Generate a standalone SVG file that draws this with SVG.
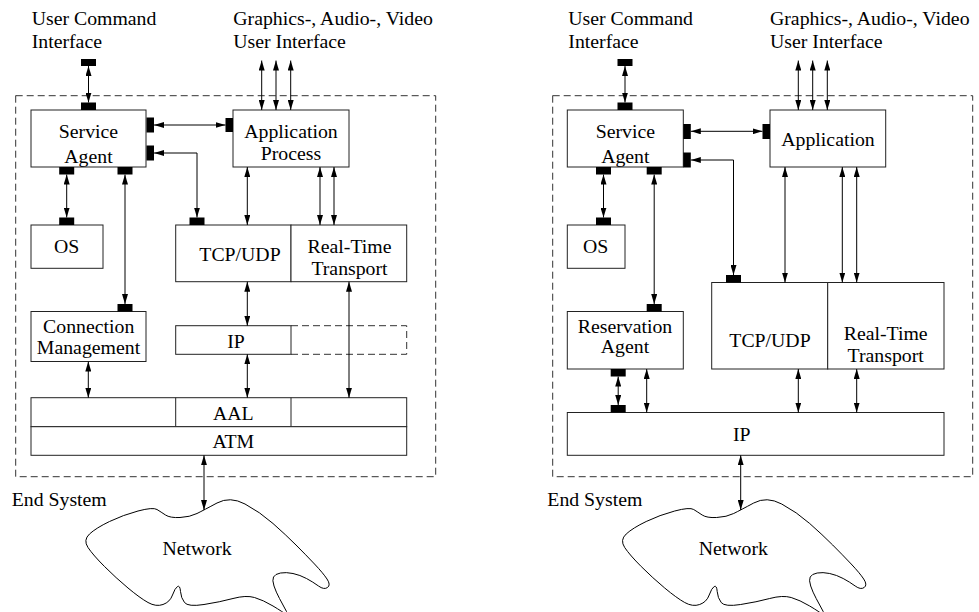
<svg xmlns="http://www.w3.org/2000/svg" width="979" height="612" viewBox="0 0 979 612">
<style>
text{font-family:"Liberation Serif","Times New Roman",serif;font-size:19.8px;fill:#000}
.c{text-anchor:middle}
.box{fill:#fff;stroke:#222;stroke-width:1}
.dash{fill:none;stroke:#333;stroke-width:1;stroke-dasharray:7,4}
.ln{fill:none;stroke:#000;stroke-width:1;marker-start:url(#ah);marker-end:url(#ah)}
.port{fill:#000}
.cloud{fill:#fff;stroke:#000;stroke-width:1}
</style>
<defs>
<marker id="ah" markerUnits="userSpaceOnUse" markerWidth="10" markerHeight="6" viewBox="0 0 10 6" refX="10" refY="3" orient="auto-start-reverse"><path d="M0,0 L10,3 L0,6 Z" fill="#000"/></marker>
<path id="cloudshape" d="M -7,513.5 Q 0,510 13,503 Q 26,496 41,504 Q 56,512 69,523.5 Q 82,535 92,545 Q 102,555 110.5,564 Q 119,573 123,579 Q 127,585 123.5,587.5 Q 120,590 114.5,586 Q 109,582 102.5,578.5 Q 96,575 89,573.5 Q 82,572 76.5,573 Q 71,574 69.5,577 Q 68,580 70,586 Q 72,592 75.5,598.5 Q 79,605 82.5,611.5 Q 86,618 82.5,615 Q 79,612 69,606 Q 59,600 50.5,597.5 Q 42,595 29,598.5 Q 16,602 0,604.5 Q -16,607 -19.5,602.5 Q -23,598 -23.5,591.5 Q -24,585 -26.5,586.5 Q -29,588 -31.5,595 Q -34,602 -41,604.5 Q -48,607 -56,602.5 Q -64,598 -76,588 Q -88,578 -99.5,566.5 Q -111,555 -116,547.5 Q -121,540 -114.5,534 Q -108,528 -94.5,521.5 Q -81,515 -66,511 Q -51,507 -47,509.5 Q -43,512 -38.5,515 Q -34,518 -24,517.5 Q -14,517 -7,513.5 Z"/>
</defs>
<rect width="979" height="612" fill="#fff"/>

<!-- LEFT DIAGRAM -->
<g id="left-end-system">
<rect class="dash" x="15.7" y="95.7" width="420" height="381"/>
<text x="11.7" y="505.7">End System</text>
</g>
<g id="left-uci"><text x="31.7" y="25">User Command</text><text x="31.7" y="48">Interface</text></g>
<g id="left-gui"><text x="233.3" y="25">Graphics-, Audio-, Video</text><text x="233.3" y="48">User Interface</text></g>
<g id="left-service-agent"><rect class="box" x="31" y="110" width="115" height="57"/><text class="c" x="88.5" y="138">Service</text><text class="c" x="88.5" y="163">Agent</text></g>
<g id="left-application"><rect class="box" x="233" y="110" width="116" height="57"/><text class="c" x="291" y="138">Application</text><text class="c" x="291" y="159.5">Process</text></g>
<g id="left-os"><rect class="box" x="31" y="225" width="72" height="43.3"/><text class="c" x="66.7" y="253.3">OS</text></g>
<g id="left-tcpudp"><rect class="box" x="175.7" y="225" width="115.3" height="56.7"/><text class="c" x="240" y="261">TCP/UDP</text></g>
<g id="left-rtt"><rect class="box" x="291" y="225" width="115.7" height="56.7"/><text class="c" x="349.5" y="253.3">Real-Time</text><text class="c" x="349.5" y="275">Transport</text></g>
<g id="left-conn-mgmt"><rect class="box" x="31" y="311.5" width="115" height="50"/><text class="c" x="88.7" y="332.7">Connection</text><text class="c" x="88.5" y="353.5">Management</text></g>
<g id="left-ip"><path class="dash" d="M291,325.7 H406.7 V354.3 H291"/><rect class="box" x="175.7" y="325.7" width="115.3" height="28.6"/><text class="c" x="236" y="348">IP</text></g>
<g id="left-aal"><rect class="box" x="31" y="397.7" width="375.7" height="29"/><line x1="175.7" y1="397.7" x2="175.7" y2="426.7" stroke="#222"/><line x1="291" y1="397.7" x2="291" y2="426.7" stroke="#222"/><text class="c" x="233.3" y="420">AAL</text></g>
<g id="left-atm"><rect class="box" x="31" y="426.7" width="375.7" height="28.6"/><text class="c" x="233.3" y="448">ATM</text></g>
<g id="left-network"><use href="#cloudshape" class="cloud" transform="translate(204,0)"/><text class="c" x="197" y="555">Network</text></g>

<g id="left-connectors">
<rect class="port" x="81" y="59" width="15" height="7"/><rect class="port" x="81" y="102.5" width="15" height="7.5"/>
<line class="ln" x1="88.5" y1="66" x2="88.5" y2="102.5"/>
<line class="ln" x1="261.7" y1="60.5" x2="261.7" y2="110"/>
<line class="ln" x1="276" y1="60.5" x2="276" y2="110"/>
<line class="ln" x1="290.7" y1="60.5" x2="290.7" y2="110"/>
<rect class="port" x="146.5" y="117.5" width="7.5" height="15"/><rect class="port" x="225.5" y="118" width="7.5" height="14"/>
<line class="ln" x1="154" y1="125" x2="225.5" y2="125"/>
<rect class="port" x="146.5" y="145.5" width="7.5" height="15"/><rect class="port" x="189.5" y="217.5" width="15" height="7.5"/>
<polyline class="ln" points="154,153 197,153 197,217.5"/>
<rect class="port" x="59.2" y="167" width="15" height="7.5"/><rect class="port" x="59.2" y="217.5" width="15" height="7.5"/>
<line class="ln" x1="66.7" y1="174.5" x2="66.7" y2="217.5"/>
<rect class="port" x="117.5" y="167" width="15" height="7.5"/><rect class="port" x="117.5" y="304" width="15" height="7.5"/>
<line class="ln" x1="125" y1="174.5" x2="125" y2="304"/>
<line class="ln" x1="247.3" y1="167" x2="247.3" y2="225"/>
<line class="ln" x1="320" y1="167" x2="320" y2="225"/>
<line class="ln" x1="334" y1="167" x2="334" y2="225"/>
<line class="ln" x1="247.3" y1="281.7" x2="247.3" y2="325.7"/>
<line class="ln" x1="349" y1="281.7" x2="349" y2="397.7"/>
<line class="ln" x1="88.3" y1="361.5" x2="88.3" y2="397.7"/>
<line class="ln" x1="247.3" y1="354.3" x2="247.3" y2="397.7"/>
<line class="ln" x1="204" y1="455.3" x2="204" y2="510"/>
</g>

<!-- RIGHT DIAGRAM -->
<g id="right-end-system">
<rect class="dash" x="552.7" y="95.7" width="420" height="381"/>
<text x="547.3" y="505.7">End System</text>
</g>
<g id="right-uci"><text x="568.3" y="25">User Command</text><text x="568.3" y="48">Interface</text></g>
<g id="right-gui"><text x="770" y="25">Graphics-, Audio-, Video</text><text x="770" y="48">User Interface</text></g>
<g id="right-service-agent"><rect class="box" x="567.3" y="110" width="116" height="57"/><text class="c" x="625.3" y="138">Service</text><text class="c" x="625.3" y="163">Agent</text></g>
<g id="right-application"><rect class="box" x="770" y="110" width="115.7" height="57"/><text class="c" x="828" y="146">Application</text></g>
<g id="right-os"><rect class="box" x="567.3" y="225" width="57.7" height="43.3"/><text class="c" x="595.7" y="253.3">OS</text></g>
<g id="right-reservation-agent"><rect class="box" x="567.3" y="311.5" width="116" height="57.5"/><text class="c" x="625" y="332.7">Reservation</text><text class="c" x="625" y="353.3">Agent</text></g>
<g id="right-tcpudp"><rect class="box" x="711.7" y="282.5" width="116" height="86.5"/><text class="c" x="770" y="346.7">TCP/UDP</text></g>
<g id="right-rtt"><rect class="box" x="827.7" y="282.5" width="116.3" height="86.5"/><text class="c" x="885.7" y="340">Real-Time</text><text class="c" x="885.7" y="361.5">Transport</text></g>
<g id="right-ip"><rect class="box" x="567.3" y="412.5" width="376.7" height="42.8"/><text class="c" x="741.7" y="440.7">IP</text></g>
<g id="right-network"><use href="#cloudshape" class="cloud" transform="translate(740.7,0)"/><text class="c" x="733.3" y="555">Network</text></g>

<g id="right-connectors">
<rect class="port" x="617.5" y="59" width="15" height="7"/><rect class="port" x="617.5" y="102.5" width="15" height="7.5"/>
<line class="ln" x1="625" y1="66" x2="625" y2="102.5"/>
<line class="ln" x1="798.3" y1="60.5" x2="798.3" y2="110"/>
<line class="ln" x1="812.7" y1="60.5" x2="812.7" y2="110"/>
<line class="ln" x1="827.3" y1="60.5" x2="827.3" y2="110"/>
<rect class="port" x="683.3" y="124" width="7.5" height="15"/><rect class="port" x="762.5" y="124" width="7.5" height="15"/>
<line class="ln" x1="690.8" y1="131.3" x2="762.5" y2="131.3"/>
<rect class="port" x="683.3" y="152.5" width="7.5" height="15"/><rect class="port" x="726" y="275" width="15" height="7.5"/>
<polyline class="ln" points="690.8,160 733.5,160 733.5,275"/>
<rect class="port" x="596" y="167" width="15" height="7.5"/><rect class="port" x="596" y="217.5" width="15" height="7.5"/>
<line class="ln" x1="603.5" y1="174.5" x2="603.5" y2="217.5"/>
<rect class="port" x="646.7" y="167" width="15" height="7.5"/><rect class="port" x="646.7" y="304" width="15" height="7.5"/>
<line class="ln" x1="654.2" y1="174.5" x2="654.2" y2="304"/>
<line class="ln" x1="785" y1="167" x2="785" y2="282.5"/>
<line class="ln" x1="842.3" y1="167" x2="842.3" y2="282.5"/>
<line class="ln" x1="856.7" y1="167" x2="856.7" y2="282.5"/>
<rect class="port" x="610.7" y="369" width="15" height="7.5"/><rect class="port" x="610.7" y="405" width="15" height="7.5"/>
<line class="ln" x1="618.2" y1="376.5" x2="618.2" y2="405"/>
<line class="ln" x1="646.7" y1="369" x2="646.7" y2="412.5"/>
<line class="ln" x1="798.3" y1="369" x2="798.3" y2="412.5"/>
<line class="ln" x1="856.7" y1="369" x2="856.7" y2="412.5"/>
<line class="ln" x1="740.7" y1="455.3" x2="740.7" y2="510"/>
</g>
</svg>
